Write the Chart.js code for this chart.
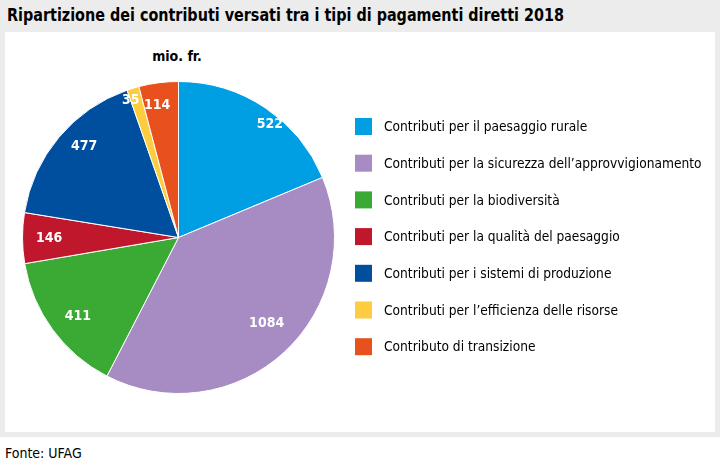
<!DOCTYPE html>
<html lang="it">
<head>
<meta charset="utf-8">
<script src="https://cdn.jsdelivr.net/npm/chart.js@4/dist/chart.umd.min.js"></script>
<style>
  body { margin: 0; width: 720px; height: 470px; position: relative; background: #fff;
         font-family: "DejaVu Sans Condensed", "Liberation Sans Narrow", "Liberation Sans", sans-serif; }
  #frame { position: absolute; left: 0; top: 0; width: 720px; height: 437px; background: #ececec; }
  #title { position: absolute; left: 7px; top: 4px; font-size: 18px; font-weight: bold; color: #000; white-space: nowrap;
           transform: scaleX(0.887); transform-origin: 0 0; }
  #panel { position: absolute; left: 5px; top: 32px; width: 710px; height: 400px; background: #fff; }
  #unit { position: absolute; left: 140px; top: 48px; width: 74px; text-align: center; font-size: 14px; font-weight: bold; }
  #source { position: absolute; left: 5px; top: 445px; font-size: 14px; color: #000; }
  #chart { position: absolute; left: 0; top: 0; }
</style>
</head>
<body>
<div id="frame">
  <div id="title">Ripartizione dei contributi versati tra i tipi di pagamenti diretti 2018</div>
  <div id="panel"></div>
</div>
<div id="unit">mio. fr.</div>
<div id="source">Fonte: UFAG</div>
<canvas id="chart" width="720" height="470"></canvas>
<script>
(function() {
    "use strict";

    // Dati (mio. fr.)
    const categories = [
        'Contributi per il paesaggio rurale',
        'Contributi per la sicurezza dell\u2019approvvigionamento',
        'Contributi per la biodiversit\u00e0',
        'Contributi per la qualit\u00e0 del paesaggio',
        'Contributi per i sistemi di produzione',
        'Contributi per l\u2019efficienza delle risorse',
        'Contributo di transizione'
    ];
    const values = [522, 1084, 411, 146, 477, 35, 114];
    const colors = ['#009fe3', '#a78bc3', '#3aaa35', '#c0172c', '#004f9f', '#fdcc3f', '#e8501e'];

    const font = '"DejaVu Sans Condensed", "Liberation Sans Narrow", "Liberation Sans", sans-serif';

    // etichette dei valori dentro le fette
    const sliceLabels = {
        id: 'sliceLabels',
        afterDatasetsDraw(chart, args, opts) {
            const ctx = chart.ctx;
            const arcs = chart.getDatasetMeta(0).data;
            ctx.save();
            ctx.fillStyle = '#fff';
            ctx.font = 'bold 14px ' + font;
            ctx.textAlign = 'center';
            ctx.textBaseline = 'middle';
            arcs.forEach(function(arc, i) {
                const p = arc.getProps(['x', 'y', 'startAngle', 'endAngle', 'outerRadius'], true);
                const a = (p.startAngle + p.endAngle) / 2 + opts.shift[i] * Math.PI / 180;
                const r = p.outerRadius * opts.radius[i];
                ctx.fillText(String(chart.data.datasets[0].data[i]), p.x + Math.cos(a) * r, p.y + Math.sin(a) * r);
            });
            ctx.restore();
        }
    };

    // legenda a destra (testo leggermente compresso come nell'originale)
    const sideLegend = {
        id: 'sideLegend',
        afterDraw(chart, args, opts) {
            const ctx = chart.ctx;
            ctx.save();
            ctx.font = '14.5px ' + font;
            ctx.textBaseline = 'middle';
            ctx.textAlign = 'left';
            chart.data.labels.forEach(function(label, i) {
                const y = opts.top + i * opts.step;
                ctx.fillStyle = chart.data.datasets[0].backgroundColor[i];
                ctx.fillRect(opts.left, y, opts.box, opts.box);
                ctx.save();
                ctx.translate(opts.left + 29, y + opts.box / 2 + 1);
                ctx.scale(opts.squeeze, 1);
                ctx.fillStyle = '#000';
                ctx.fillText(label, 0, 0);
                ctx.restore();
            });
            ctx.restore();
        }
    };

    const ctx = document.getElementById('chart').getContext('2d');
    new Chart(ctx, {
        type: 'pie',
        data: {
            labels: categories,
            datasets: [{
                data: values,
                backgroundColor: colors,
                borderColor: '#ffffff',
                borderWidth: 1
            }]
        },
        options: {
            responsive: false,
            devicePixelRatio: 1,
            animation: false,
            layout: { padding: { left: 22, top: 81, right: 385, bottom: 76 } },
            plugins: {
                legend: { display: false },
                tooltip: { enabled: false },
                sliceLabels: {
                    shift: [5.3, -3, -2, 0, 4, -2.2, -1.8],
                    radius: [0.93, 0.79, 0.82, 0.83, 0.84, 0.93, 0.86]
                },
                sideLegend: { left: 355, top: 118, step: 36.7, box: 17, squeeze: 0.94 }
            }
        },
        plugins: [sliceLabels, sideLegend]
    });
})();
</script>
</body>
</html>
